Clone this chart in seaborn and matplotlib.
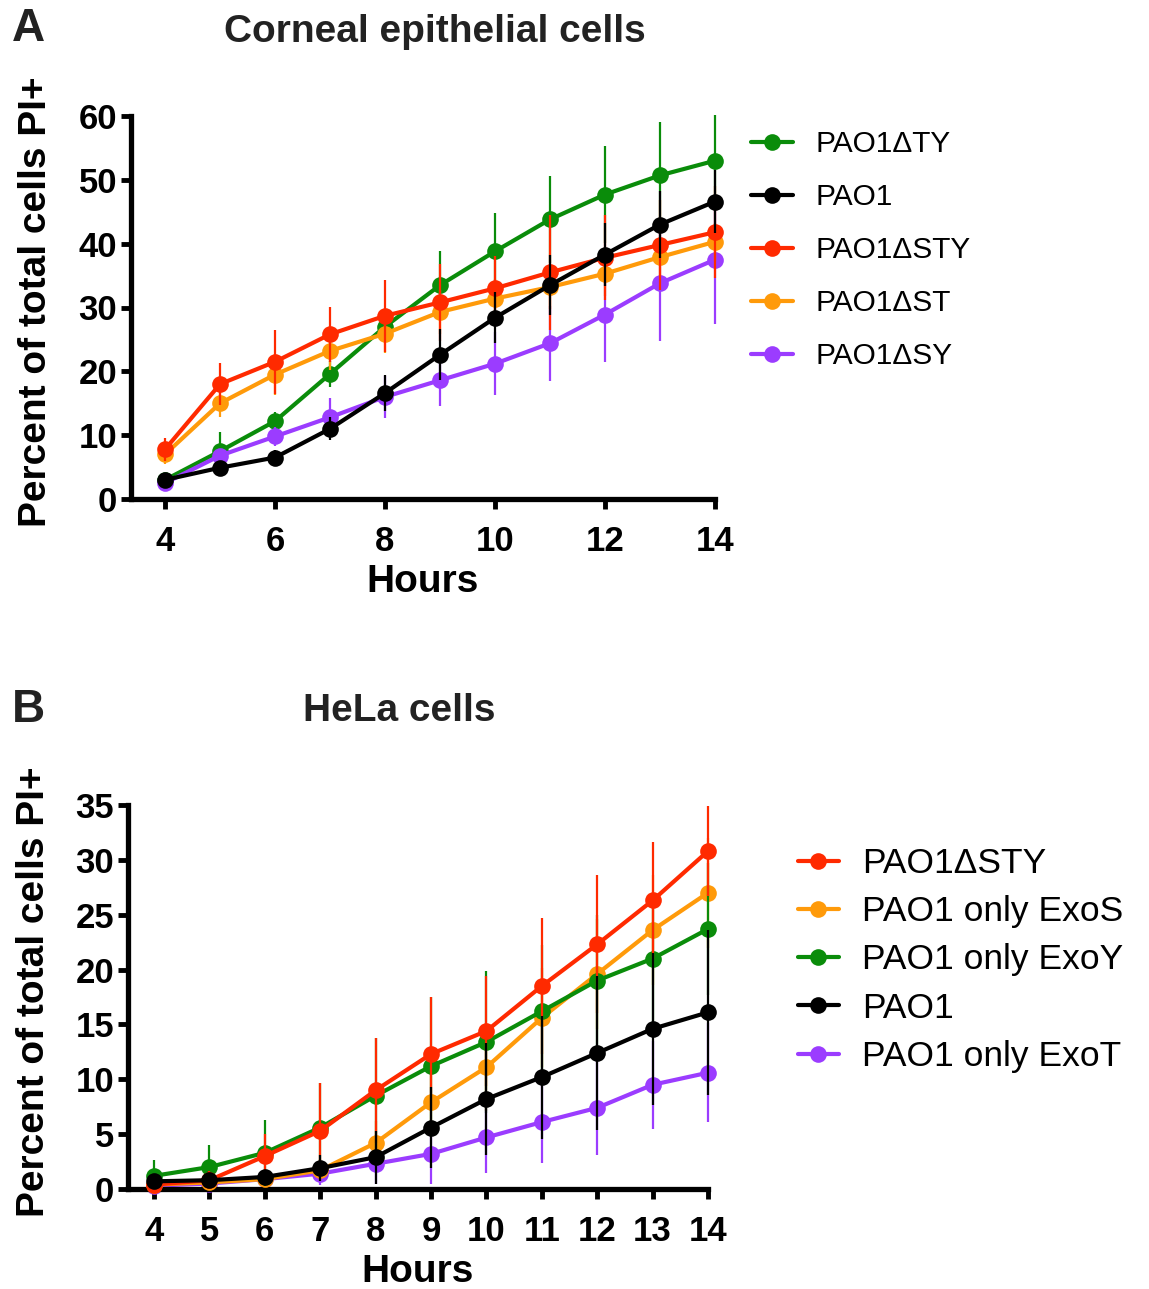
import numpy as np
import matplotlib
matplotlib.use("Agg")
import matplotlib.pyplot as plt
import seaborn as sns

# panel A - corneal epithelial cells
hours_a = [4, 5, 6, 7, 8, 9, 10, 11, 12, 13, 14]
a_ty = [3.0, 7.5, 12.2, 19.6, 27.0, 33.5, 38.8, 43.8, 47.7, 50.7, 53.0]
a_ty_err = [0.8, 3.0, 1.5, 2.0, 2.0, 5.3, 6.0, 6.8, 7.6, 8.3, 7.1]
a_pao1 = [3.0, 4.9, 6.5, 11.0, 16.6, 22.6, 28.4, 33.5, 38.3, 43.0, 46.6]
a_pao1_err = [1.0, 1.0, 1.2, 1.8, 2.8, 4.0, 4.0, 4.7, 5.0, 5.2, 5.0]
a_sty = [7.8, 18.0, 21.5, 25.8, 28.7, 30.8, 33.0, 35.5, 37.8, 39.8, 41.8]
a_sty_err = [1.8, 3.3, 5.0, 4.3, 5.6, 6.0, 5.0, 9.0, 6.7, 7.0, 7.2]
a_st = [7.0, 15.0, 19.5, 23.2, 25.9, 29.3, 31.4, 33.2, 35.3, 37.9, 40.3]
a_st_err = [1.5, 2.1, 3.2, 3.0, 3.0, 3.5, 3.0, 3.5, 3.5, 3.0, 3.0]
a_sy = [2.5, 6.8, 9.8, 12.8, 16.0, 18.6, 21.2, 24.4, 28.9, 33.8, 37.5]
a_sy_err = [0.8, 1.0, 1.5, 3.0, 3.3, 4.0, 4.9, 5.9, 7.5, 9.1, 10.1]

# panel B - HeLa cells
hours_b = [4, 5, 6, 7, 8, 9, 10, 11, 12, 13, 14]
b_sty = [0.4, 0.8, 3.0, 5.3, 9.0, 12.3, 14.4, 18.5, 22.3, 26.3, 30.8]
b_sty_err = [0.5, 0.8, 2.0, 4.4, 4.8, 5.2, 5.0, 6.2, 6.3, 5.3, 4.1]
b_exos = [0.4, 0.6, 0.9, 1.7, 4.2, 7.9, 11.1, 15.6, 19.6, 23.6, 27.0]
b_exos_err = [0.3, 0.4, 0.5, 1.0, 2.0, 3.0, 4.0, 4.5, 5.0, 5.0, 5.0]
b_exoy = [1.2, 2.0, 3.3, 5.6, 8.5, 11.2, 13.4, 16.2, 19.0, 21.0, 23.7]
b_exoy_err = [1.4, 2.0, 3.0, 4.1, 5.3, 6.3, 6.5, 6.0, 6.0, 6.0, 6.0]
b_pao1 = [0.7, 0.8, 1.1, 1.9, 2.9, 5.6, 8.2, 10.2, 12.4, 14.6, 16.1]
b_pao1_err = [0.4, 0.5, 0.6, 1.2, 2.4, 3.7, 5.1, 5.6, 7.0, 6.9, 7.5]
b_exot = [0.3, 0.5, 0.9, 1.4, 2.3, 3.2, 4.7, 6.1, 7.4, 9.5, 10.6]
b_exot_err = [0.2, 0.3, 0.5, 1.0, 1.8, 2.7, 3.2, 3.7, 4.3, 4.0, 4.5]

GREEN = "#0A8C0A"
BLACK = "#000000"
RED = "#FF2A00"
ORANGE = "#FF9A0A"
PURPLE = "#9B3CFF"

sns.set_style("ticks")
plt.rcParams["font.family"] = ["Liberation Sans", "DejaVu Sans"]
plt.rcParams["text.color"] = "black"
plt.rcParams["axes.labelcolor"] = "black"

W, H = 1149, 1289
fig = plt.figure(figsize=(W / 100, H / 100), dpi=100)


def px_axes(left, top, right, bottom):
    return fig.add_axes([left / W, 1 - bottom / H, (right - left) / W, (bottom - top) / H])


def draw_series(ax, x, y, err, color, label, z):
    ax.errorbar(x, y, yerr=err, fmt="none", ecolor=color, elinewidth=1.6,
                capsize=0, zorder=z, clip_on=False)
    sns.lineplot(x=x, y=y, ax=ax, color=color, marker="o", markersize=12,
                 markeredgewidth=0, linewidth=3.0, label=label, zorder=z + 0.5,
                 clip_on=False, errorbar=None)


def style_axes(ax):
    for side in ["top", "right"]:
        ax.spines[side].set_visible(False)
    for side in ["left", "bottom"]:
        ax.spines[side].set_linewidth(3.8)
        ax.spines[side].set_color("black")
    ax.tick_params(axis="both", length=7, width=3.5, labelsize=25,
                   color="black", labelcolor="black")
    ax.tick_params(axis="x", pad=12)
    ax.tick_params(axis="y", pad=3)
    for lab in ax.get_xticklabels() + ax.get_yticklabels():
        lab.set_fontweight("bold")
    ax.set_xlabel("Hours", fontsize=28, fontweight="bold", labelpad=4)
    ax.set_ylabel("Percent of total cells PI+", fontsize=28, fontweight="bold")
    ax.yaxis.set_label_coords(-0.131, 0.515)


# ---- panel A
axA = px_axes(131, 116, 715, 499)
draw_series(axA, hours_a, a_ty, a_ty_err, GREEN, "PAO1ΔTY", 2)
draw_series(axA, hours_a, a_sy, a_sy_err, PURPLE, "PAO1ΔSY", 3)
draw_series(axA, hours_a, a_st, a_st_err, ORANGE, "PAO1ΔST", 4)
draw_series(axA, hours_a, a_sty, a_sty_err, RED, "PAO1ΔSTY", 5)
draw_series(axA, hours_a, a_pao1, a_pao1_err, BLACK, "PAO1", 6)
axA.set_xlim(3.38, 14)
axA.set_ylim(0, 60)
axA.set_xticks([4, 6, 8, 10, 12, 14])
axA.set_yticks(np.arange(0, 61, 10))
style_axes(axA)

hA, lA = axA.get_legend_handles_labels()
orderA = ["PAO1ΔTY", "PAO1", "PAO1ΔSTY", "PAO1ΔST", "PAO1ΔSY"]
axA.legend([hA[lA.index(n)] for n in orderA], orderA, loc="upper left",
           bbox_to_anchor=(751 / W, 1 - 130 / H), bbox_transform=fig.transFigure,
           frameon=False, fontsize=21.5, handlelength=1.4, handletextpad=0.75,
           labelspacing=0.84, borderpad=0, borderaxespad=0)

# ---- panel B
axB = px_axes(128, 805, 708, 1189)
draw_series(axB, hours_b, b_exot, b_exot_err, PURPLE, "PAO1 only ExoT", 2)
draw_series(axB, hours_b, b_exos, b_exos_err, ORANGE, "PAO1 only ExoS", 3)
draw_series(axB, hours_b, b_exoy, b_exoy_err, GREEN, "PAO1 only ExoY", 4)
draw_series(axB, hours_b, b_sty, b_sty_err, RED, "PAO1ΔSTY", 5)
draw_series(axB, hours_b, b_pao1, b_pao1_err, BLACK, "PAO1", 6)
axB.set_xlim(3.53, 14)
axB.set_ylim(0, 35)
axB.set_xticks(hours_b)
axB.set_yticks(np.arange(0, 36, 5))
style_axes(axB)

hB, lB = axB.get_legend_handles_labels()
orderB = ["PAO1ΔSTY", "PAO1 only ExoS", "PAO1 only ExoY", "PAO1", "PAO1 only ExoT"]
axB.legend([hB[lB.index(n)] for n in orderB], orderB, loc="upper left",
           bbox_to_anchor=(798 / W, 1 - 847 / H), bbox_transform=fig.transFigure,
           frameon=False, fontsize=25.5, handlelength=1.15, handletextpad=0.65,
           labelspacing=0.43, borderpad=0, borderaxespad=0)

# titles and panel letters
fig.text(435 / W, 1 - 32 / H, "Corneal epithelial cells", ha="center", va="center",
         fontsize=28, fontweight="bold", color="#222222")
fig.text(399 / W, 1 - 711 / H, "HeLa cells", ha="center", va="center",
         fontsize=28, fontweight="bold", color="#222222")
fig.text(12 / W, 1 - 29 / H, "A", ha="left", va="center", fontsize=33,
         fontweight="bold", color="#222222")
fig.text(12 / W, 1 - 710 / H, "B", ha="left", va="center", fontsize=33,
         fontweight="bold", color="#222222")

fig.savefig("out.png", dpi=100)
plt.close(fig)
